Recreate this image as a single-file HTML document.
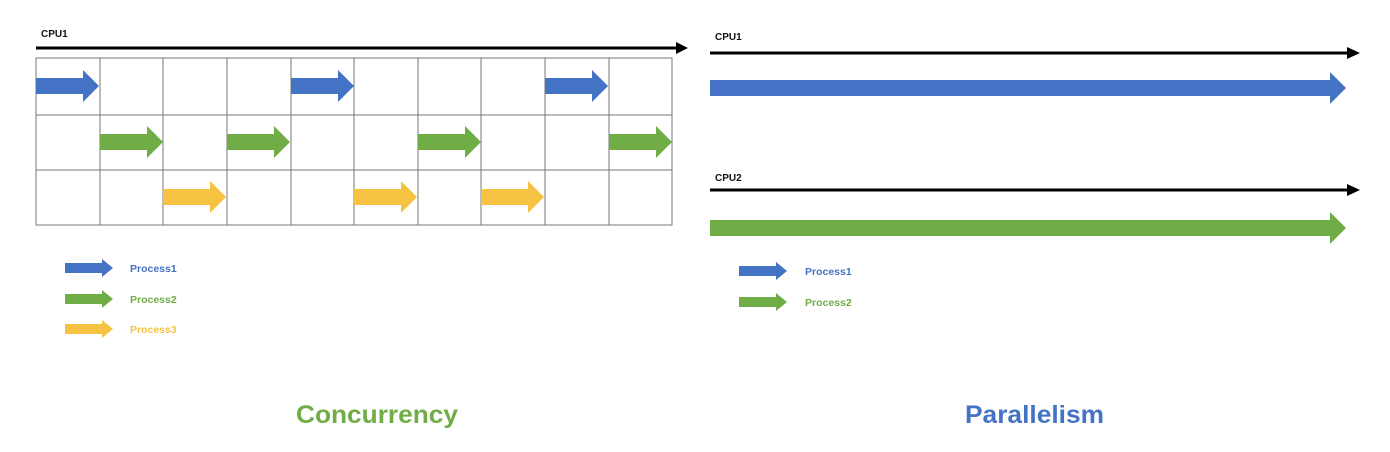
<!DOCTYPE html>
<html><head><meta charset="utf-8"><style>body{margin:0;background:#fff}svg{display:block}text{font-family:"Liberation Sans",sans-serif;font-weight:bold}</style></head>
<body>
<svg width="1390" height="452" viewBox="0 0 1390 452" xmlns="http://www.w3.org/2000/svg">
<rect width="1390" height="452" fill="#fff"/>
<!-- Left CPU1 -->
<text x="41" y="37" font-size="10" fill="#111">CPU1</text>
<line x1="36" y1="48" x2="678" y2="48" stroke="#000" stroke-width="3"/>
<polygon points="676,42 688,48 676,54" fill="#000"/>
<!-- grid -->
<g stroke="#777" stroke-width="1" fill="none">
<rect x="36" y="58" width="636" height="167"/>
<line x1="36" y1="115" x2="672" y2="115"/>
<line x1="36" y1="170" x2="672" y2="170"/>
<line x1="100" y1="58" x2="100" y2="225"/><line x1="163" y1="58" x2="163" y2="225"/>
<line x1="227" y1="58" x2="227" y2="225"/><line x1="291" y1="58" x2="291" y2="225"/>
<line x1="354" y1="58" x2="354" y2="225"/><line x1="418" y1="58" x2="418" y2="225"/>
<line x1="481" y1="58" x2="481" y2="225"/><line x1="545" y1="58" x2="545" y2="225"/>
<line x1="609" y1="58" x2="609" y2="225"/>
</g>
<defs>
<polygon id="ga" points="0,-8 47,-8 47,-16 63,0 47,16 47,8 0,8"/>
<polygon id="la" points="0,-5 37,-5 37,-9 48,0 37,9 37,5 0,5"/>
</defs>
<g fill="#4472c4">
<use href="#ga" x="36" y="86"/><use href="#ga" x="291" y="86"/><use href="#ga" x="545" y="86"/>
</g>
<g fill="#70ad47">
<use href="#ga" x="100" y="142"/><use href="#ga" x="227" y="142"/><use href="#ga" x="418" y="142"/><use href="#ga" x="609" y="142"/>
</g>
<g fill="#f5c242">
<use href="#ga" x="163" y="197"/><use href="#ga" x="354" y="197"/><use href="#ga" x="481" y="197"/>
</g>
<!-- left legend -->
<use href="#la" x="65" y="268" fill="#4472c4"/>
<use href="#la" x="65" y="299" fill="#70ad47"/>
<use href="#la" x="65" y="329" fill="#f5c242"/>
<text x="130" y="272" font-size="10.5" fill="#4472c4">Process1</text>
<text x="130" y="303" font-size="10.5" fill="#70ad47">Process2</text>
<text x="130" y="333" font-size="10.5" fill="#f5c242">Process3</text>
<!-- Right -->
<text x="715" y="40" font-size="10" fill="#111">CPU1</text>
<line x1="710" y1="53" x2="1350" y2="53" stroke="#000" stroke-width="3"/>
<polygon points="1347,47 1360,53 1347,59" fill="#000"/>
<polygon points="710,80 1330,80 1330,72 1346,88 1330,104 1330,96 710,96" fill="#4472c4"/>
<text x="715" y="181" font-size="10" fill="#111">CPU2</text>
<line x1="710" y1="190" x2="1350" y2="190" stroke="#000" stroke-width="3"/>
<polygon points="1347,184 1360,190 1347,196" fill="#000"/>
<polygon points="710,220 1330,220 1330,212 1346,228 1330,244 1330,236 710,236" fill="#70ad47"/>
<use href="#la" x="739" y="271" fill="#4472c4"/>
<use href="#la" x="739" y="302" fill="#70ad47"/>
<text x="805" y="275" font-size="10.5" fill="#4472c4">Process1</text>
<text x="805" y="306" font-size="10.5" fill="#70ad47">Process2</text>
<!-- titles -->
<text x="296" y="423" font-size="25" fill="#70ad47" textLength="162" lengthAdjust="spacingAndGlyphs">Concurrency</text>
<text x="965" y="423" font-size="25" fill="#4472c4" textLength="139" lengthAdjust="spacingAndGlyphs">Parallelism</text>
</svg>
</body></html>
